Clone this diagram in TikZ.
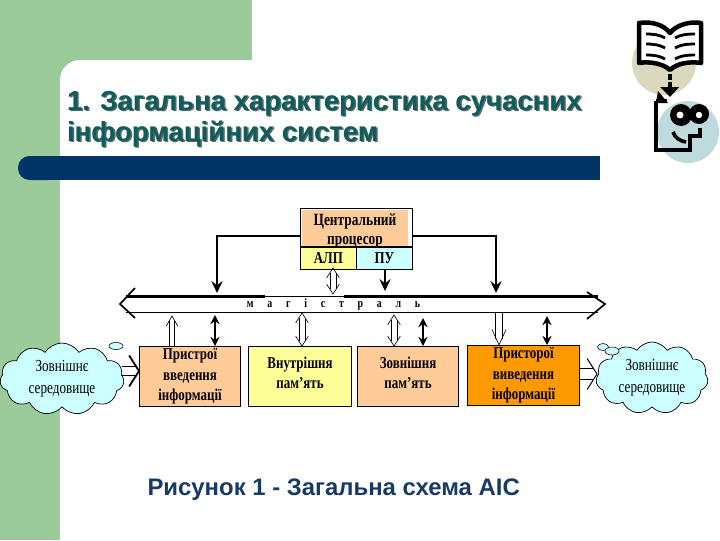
\documentclass[tikz,border=0pt]{standalone}
\usepackage{fontspec}
\setmainfont{Liberation Serif}
\setsansfont{Liberation Sans}
\newfontfamily\narrowserif[FakeStretch=0.78]{Liberation Serif}
\usetikzlibrary{arrows.meta,positioning,calc,shapes.symbols}
\definecolor{sidegreen}{RGB}{156, 203, 155}
\definecolor{barblue}{RGB}{0, 51, 102}
\definecolor{titleteal}{RGB}{14, 92, 92}
\definecolor{titleshade}{RGB}{90, 105, 105}
\definecolor{captionblue}{RGB}{24, 58, 100}
\definecolor{peach}{RGB}{255, 204, 153}
\definecolor{paleyellow}{RGB}{255, 255, 153}
\definecolor{paleblue}{RGB}{204, 255, 255}
\definecolor{deeporange}{RGB}{255, 153, 0}
\definecolor{bookbeige}{RGB}{218, 217, 190}
\definecolor{faceblue}{RGB}{191, 218, 220}
% from, to, half width of the shaft, trim at the start, trim at the end
\newcommand{\hollowshaft}[5]{
  \coordinate (shaftstart) at ($(#1)!#4!(#2)$);
  \coordinate (shaftend) at ($(#2)!#5!(#1)$);
  \draw ($(shaftstart)!#3!90:(shaftend)$) -- ($(shaftend)!#3!-90:(shaftstart)$);
  \draw ($(shaftstart)!#3!-90:(shaftend)$) -- ($(shaftend)!#3!90:(shaftstart)$);
}
% from, tip, length of the head, half width of the head
\newcommand{\hollowhead}[4]{
  \coordinate (headback) at ($(#2)!#3!(#1)$);
  \draw[line join=miter] ($(headback)!#4!90:(#2)$) -- (#2) -- ($(headback)!#4!-90:(#2)$);
}
\tikzset{
  devicebox/.style={draw=black, line width=0.6pt, minimum height=1.5cm, align=center, inner sep=0pt, font=\narrowserif\bfseries\fontsize{11.8}{14.5}\selectfont},
  threeline/.style={execute at begin node={\rule{0pt}{11pt}}},
  twoline/.style={execute at end node={\rule[-5.5pt]{0pt}{1pt}}},
  cpucell/.style={draw=black, line width=0.5pt, minimum height=0.55cm, minimum width=1.4cm, inner sep=0pt, font=\narrowserif\bfseries\fontsize{11.8}{14}\selectfont},
  worldcloud/.style={cloud, cloud puffs=11, cloud puff arc=115, cloud ignores aspect, draw=black, line width=0.5pt, fill=paleblue, minimum width=3.1cm, minimum height=1.8cm, inner sep=0pt, align=center, font=\narrowserif\fontsize{12}{15.5}\selectfont},
  heavyarrow/.style={line width=1.5pt, -{Stealth[length=8.5pt,width=8pt,inset=3pt]}},
  heavyboth/.style={line width=1.5pt, {Stealth[length=6.5pt,width=6.5pt]}-{Stealth[length=6.5pt,width=6.5pt]}},
  bubble/.style={draw=black, line width=0.4pt, fill=paleblue}
}
\begin{document}
\begin{tikzpicture}[x=0.025cm, y=-0.025cm, >=stealth, line width=0.45pt]
  \useasboundingbox (0,0) rectangle (720,540);

  % Slide background
  \fill[sidegreen] (0,0) rectangle (252,60);
  \fill[sidegreen] (0,0) rectangle (60,540);
  \fill[sidegreen] (60,60) rectangle (80,80);
  \fill[white] (80,80) -- (60,80) arc[start angle=180, end angle=270, radius=20] -- cycle;
  \fill[barblue, rounded corners=0.29cm] (18,156) rectangle (60,180);
  \fill[barblue] (32,156) rectangle (600,180);

  % Heading
  \node[anchor=west, align=left, text=titleshade, font=\sffamily\bfseries\fontsize{19.6}{22}\selectfont] (titleback) at (63.5,120.5) {1. Загальна характеристика сучасних\\інформаційних систем};
  \node[anchor=west, align=left, text=titleteal, font=\sffamily\bfseries\fontsize{19.6}{22}\selectfont] (title) at (62,119) {1. Загальна характеристика сучасних\\інформаційних систем};

  % Book and face picture
  \fill[bookbeige] (664,63) circle[radius=32];
  \fill[faceblue] (688,132) circle[radius=31];
  \draw[fill=white, line width=3.2pt, line join=round] (639,23) .. controls (652,21) and (664,25) .. (670,33) .. controls (676,25) and (690,21) .. (701,23) -- (701,63) .. controls (688,61) and (676,64) .. (670,70) .. controls (664,64) and (650,61) .. (639,63) -- cycle;
  \foreach \liney in {34,44,55} {
    \draw[line width=2pt] (646,\liney) .. controls (654,\liney) and (660,\liney+1) .. (665,\liney+4);
    \draw[line width=2pt] (695,\liney) .. controls (686,\liney) and (680,\liney+1) .. (675,\liney+4);
  }
  \draw[line width=3pt, dash pattern=on 4pt off 2pt] (670,74) -- (670,88);
  \fill (660,87) -- (679,87) -- (670,97) -- cycle;
  \draw[line width=3pt, line join=miter] (656,101) -- (656,150) -- (690,150) -- (690,136) -- (700,136) -- (700,128);
  \draw[line width=3pt] (656,101) -- (667,101);
  \fill (658,91) -- (668,103) -- (656,103) -- cycle;
  \draw[line width=2.6pt] (673,132) .. controls (675,138) and (680,141) .. (686,142);
  \fill (681,115) circle[radius=11] (699,114) circle[radius=10];
  \fill[white] (680,115) circle[radius=3.5] (699,115) circle[radius=3.2];

  % Central processor
  \node[draw=black, line width=0.5pt, minimum width=2.8cm, minimum height=0.95cm, anchor=north west, inner sep=0pt] (cpu) at (300,208) {};
  \fill[peach] (302,210) rectangle (408,246);
  \node[align=center, font=\narrowserif\bfseries\fontsize{12.2}{14}\selectfont] (cpulabel) at (355,231) {Центральний\\процесор};
  \node[cpucell, fill=paleyellow, anchor=north west] (alu) at (cpu.south west) {АЛП};
  \node[cpucell, fill=paleblue, anchor=north east] (cu) at (cpu.south east) {ПУ};

  % Bus
  \node[inner sep=0pt, font=\narrowserif\bfseries\fontsize{9}{9}\selectfont] (bus) at (333.5,304.5) {м\hskip9.8pt а\hskip9.8pt г\hskip9.8pt і\hskip9.8pt с\hskip9.8pt т\hskip9.8pt р\hskip9.8pt а\hskip9.8pt л\hskip9.8pt ь};
  \coordinate (buswest) at (120,304);
  \coordinate (buseast) at (605,304);
  \coordinate (busleft) at (126,304);
  \coordinate (busright) at (598,304);
  \coordinate (busbreakone) at (265,296.5);
  \coordinate (busbreaktwo) at (344,296.5);
  \draw[line width=0.7pt] (busleft |- 0,312) -- (busright |- 0,312);
  \draw[line width=0.5pt] (busbreakone) -- (busbreaktwo);
  \draw[line width=1.5pt] (busleft |- busbreakone) -- (busbreakone);
  \draw[line width=1.5pt] (busbreaktwo) -- (busright |- busbreaktwo);
  \draw[line width=1.2pt, line join=miter] (135,288) -- (buswest) -- (135,318);
  \draw[line width=1.2pt, line join=miter] (587,292) -- (buseast) -- (587,319);

  % Devices
  \node[devicebox, threeline, fill=peach, minimum width=2.53cm, anchor=north west] (inbox) at (139,346) {Пристрої\\введення\\інформації};
  \node[devicebox, twoline, fill=paleyellow, minimum width=2.58cm, anchor=north west] (rambox) at (248,346) {Внутрішня\\пам’ять};
  \node[devicebox, twoline, fill=peach, minimum width=2.53cm, anchor=north west] (diskbox) at (357,346) {Зовнішня\\пам’ять};
  \node[devicebox, threeline, fill=deeporange, minimum width=2.8cm, anchor=north west] (outbox) at (467,345) {Присторої\\виведення\\інформації};

  % Environment clouds
  \node[worldcloud] (leftworld) at (62,379) {Зовнішнє\\середовище};
  \node[worldcloud, minimum width=2.8cm] (rightworld) at (652,378) {Зовнішнє\\середовище};
  \draw[bubble] (116,346) ellipse[x radius=7, y radius=3.5];
  \draw[bubble] (603,347) ellipse[x radius=5.5, y radius=3.5];
  \draw[bubble] (612,351) ellipse[x radius=7, y radius=4];

  % Links from the processor to the bus
  \draw[heavyarrow] (cpu.west |- 0,236) -| (217,293);
  \draw[heavyarrow] (cpu.east |- 0,236) -| (496,293);
  \coordinate (alubottom) at (333,268);
  \coordinate (alubus) at (333,294);
  \hollowshaft{alubottom}{alubus}{2.2pt}{3.4pt}{3.4pt}
  \hollowhead{alubottom}{alubus}{7pt}{4.5pt}
  \hollowhead{alubus}{alubottom}{7pt}{4.5pt}
  \draw[heavyarrow] (cu.south -| 385,0) -- (385,291);

  % Links from the devices to the bus
  \coordinate (intop) at (172,346);
  \coordinate (inbus) at (172,316);
  \hollowshaft{intop}{inbus}{2pt}{0pt}{3.4pt}
  \hollowhead{intop}{inbus}{7pt}{4pt}
  \draw[heavyboth] (215,0 |- inbox.north) -- (215,315);
  \coordinate (ramtop) at (302,346);
  \coordinate (rambus) at (302,313);
  \hollowshaft{ramtop}{rambus}{2.2pt}{3.4pt}{3.4pt}
  \hollowhead{ramtop}{rambus}{7pt}{4.5pt}
  \hollowhead{rambus}{ramtop}{7pt}{4.5pt}
  \coordinate (disktop) at (394,346);
  \coordinate (diskbus) at (394,315);
  \hollowshaft{disktop}{diskbus}{2.2pt}{3.4pt}{3.4pt}
  \hollowhead{disktop}{diskbus}{7pt}{4.5pt}
  \hollowhead{diskbus}{disktop}{7pt}{4.5pt}
  \draw[heavyboth] (423,0 |- diskbox.north) -- (423,318);
  \coordinate (outbus) at (499,313);
  \coordinate (outtop) at (499,345);
  \hollowshaft{outbus}{outtop}{2.6pt}{0pt}{4pt}
  \hollowhead{outbus}{outtop}{11pt}{5pt}
  \draw[heavyboth] (547,0 |- outbox.north) -- (547,316);

  % Links with the environment
  \coordinate (worldin) at (122,371);
  \coordinate (boxin) at (139,371);
  \begin{scope}[line width=1.3pt]
    \hollowshaft{worldin}{boxin}{3.2pt}{0pt}{2pt}
    \hollowhead{worldin}{boxin}{7pt}{11pt}
  \end{scope}
  \coordinate (boxout) at (579,374);
  \coordinate (worldout) at (597,374);
  \begin{scope}[line width=0.7pt]
    \hollowshaft{boxout}{worldout}{3.6pt}{0pt}{2pt}
    \hollowhead{boxout}{worldout}{7pt}{11pt}
  \end{scope}

  % Caption
  \node[anchor=west, text=captionblue, font=\sffamily\bfseries\fontsize{17}{19}\selectfont] (caption) at (142.5,490) {Рисунок 1 - Загальна схема АІС};
\end{tikzpicture}
\end{document}
